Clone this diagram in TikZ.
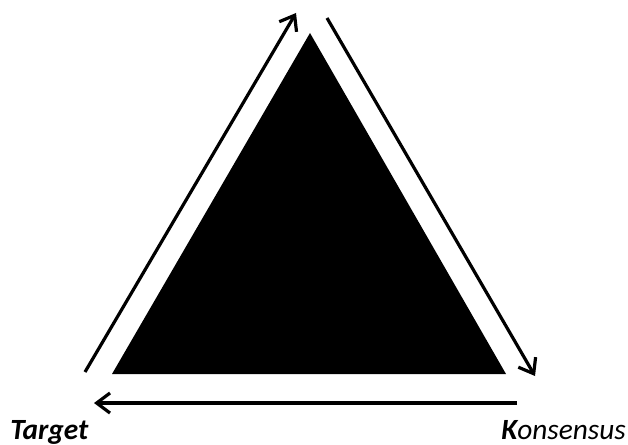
\documentclass[tikz,border=0pt]{standalone}
\usepackage{fontspec}
\setmainfont{Carlito}
\usetikzlibrary{arrows.meta,positioning}
\tikzset{
	flow/.style={line width=2.4pt, -{Straight Barb[length=10pt,width=15pt,line width=2.4pt]}},
	label/.style={font=\fontsize{22}{24}\selectfont\itshape, inner sep=0pt, anchor=base west},
}
\begin{document}
\begin{tikzpicture}[x=0.75pt,y=-0.75pt]
	\useasboundingbox (0,0) rectangle (628,445);
	% the triangle
	\coordinate (top) at (310,33);
	\coordinate (right) at (506,374);
	\coordinate (left) at (112,374);
	\fill[black] (top) -- (right) -- (left) -- cycle;
	% ends of the arrows
	\coordinate (a1) at (85,372);
	\coordinate (a2) at (296,13);
	\coordinate (b1) at (327,18);
	\coordinate (b2) at (535,376);
	\coordinate (c1) at (517,403);
	\coordinate (c2) at (94,403);
	\draw[flow] (a1) -- (a2);
	\draw[flow] (b1) -- (b2);
	\draw[flow] (c1) -- (c2);
	% labels
	\node[label,font=\fontsize{22}{24}\selectfont\bfseries\itshape] (target) at (10,439) {Target};
	\node[label] (konsensus) at (501,439) {{\bfseries K}onsensus};
\end{tikzpicture}
\end{document}
